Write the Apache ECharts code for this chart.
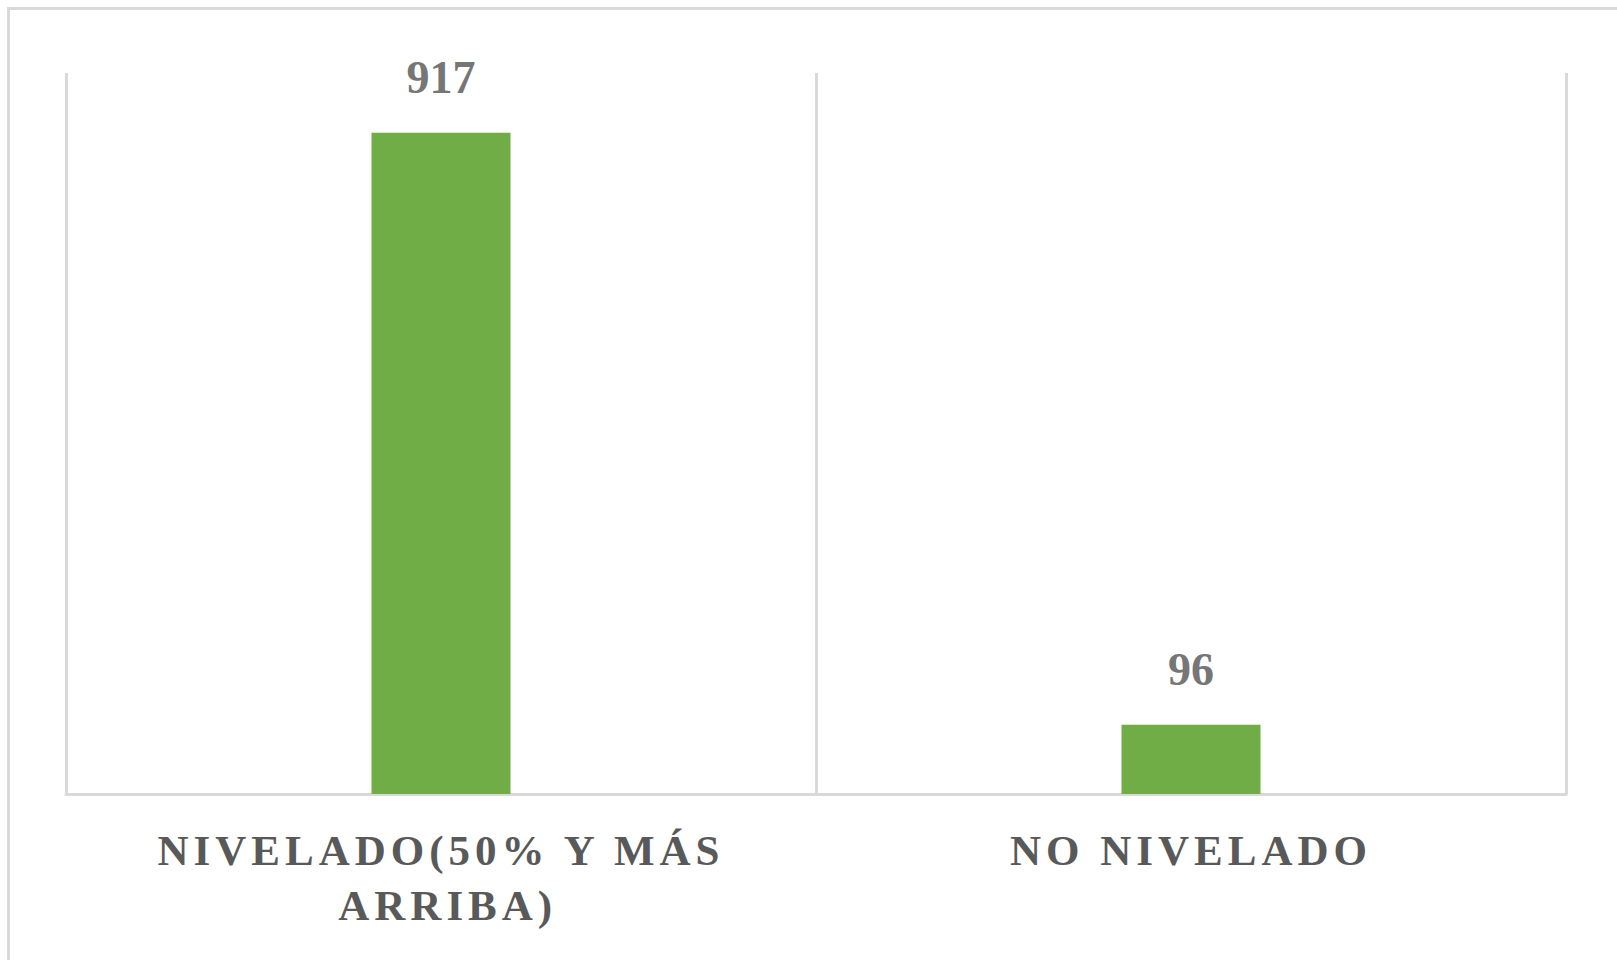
<!DOCTYPE html>
<html>
<head>
<meta charset="utf-8">
<script src="https://cdn.jsdelivr.net/npm/echarts@6/dist/echarts.min.js"></script>
<style>
  html, body { margin: 0; padding: 0; background: #ffffff; overflow: hidden; }
  #frame { position: absolute; left: 7px; top: 7px; width: 1700px; height: 1000px;
           border-left: 3px solid #d9d9d9; border-top: 3px solid #d9d9d9; box-sizing: border-box; }
  #chart { position: absolute; left: 0; top: 0; width: 1617px; height: 960px; }
  #chart svg text { letter-spacing: 5px; }
  #chart svg text[style*="46px"] { letter-spacing: 0px; }
</style>
</head>
<body>
<div id="frame"></div>
<div id="chart"></div>
<script>
const categories = ['NIVELADO(50% Y MÁS ARRIBA)', 'NO NIVELADO'];
const values = [917, 96];

const chart = echarts.init(document.getElementById('chart'), null, { renderer: 'svg' });
chart.setOption({
  animation: false,
  backgroundColor: 'transparent',
  grid: { left: 66, right: 51, top: 73, bottom: 166, containLabel: false },
  xAxis: {
    type: 'category',
    data: categories,
    boundaryGap: true,
    axisLine: { show: true, lineStyle: { color: '#d9d9d9', width: 3 } },
    axisTick: { show: false },
    splitLine: { show: true, lineStyle: { color: '#d9d9d9', width: 3 } },
    axisLabel: {
      interval: 0,
      margin: 29,
      color: '#595959',
      fontFamily: '"Liberation Serif", "Times New Roman", serif',
      fontWeight: 'bold',
      fontSize: 43,
      lineHeight: 55,
      width: 500,
      overflow: 'break',
      align: 'center'
    }
  },
  yAxis: {
    type: 'value',
    min: 0,
    max: 1000,
    show: false,
    splitLine: { show: false }
  },
  series: [{
    type: 'bar',
    data: values,
    barWidth: 139,
    itemStyle: { color: '#70ad47' },
    label: {
      show: true,
      position: 'top',
      distance: 32,
      color: '#767676',
      fontFamily: '"Liberation Serif", "Times New Roman", serif',
      fontWeight: 'bold',
      fontSize: 46
    }
  }]
});
</script>
</body>
</html>
